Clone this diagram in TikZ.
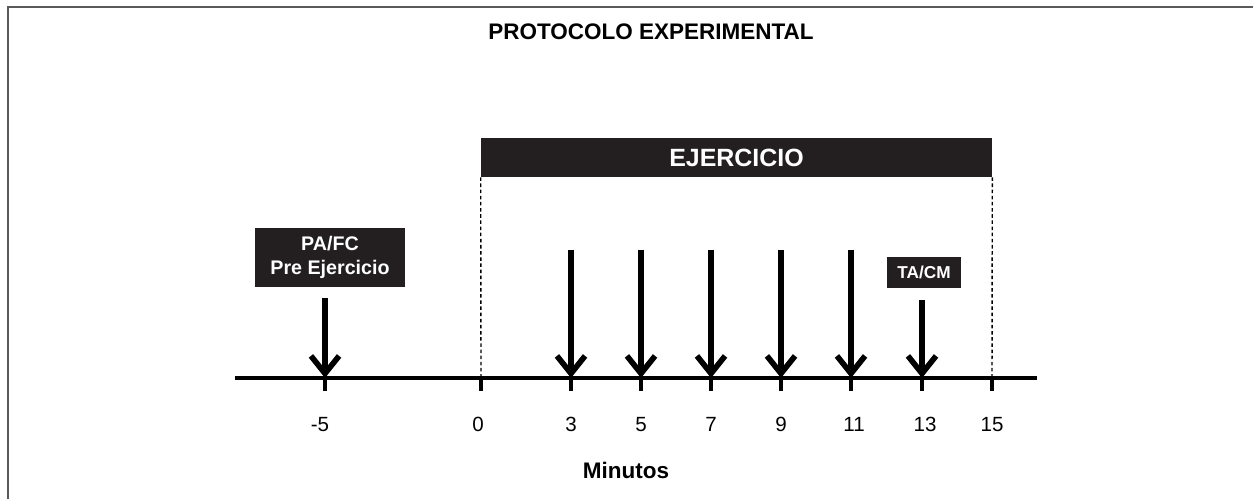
\documentclass[tikz,border=0pt]{standalone}
\usepackage{fontspec}
\setmainfont{Liberation Sans}
\usetikzlibrary{positioning}
\usetikzlibrary{arrows.meta}
\definecolor{barfill}{HTML}{231F20}

\begin{document}
\begin{tikzpicture}
		[x=0.02cm, y=-0.02cm,
		 labelbox/.style={fill=barfill, text=white, font=\bfseries, align=center, inner sep=0pt},
		 marker/.style={line width=3.2pt, -{Straight Barb[length=10pt, width=16pt]}},
		 tickmark/.style={line width=2pt},
		 ticklabel/.style={anchor=base, inner sep=0pt, font=\fontsize{11.7}{14}\selectfont}]
		\useasboundingbox (0,0) rectangle (1253,499);
		\draw[black!65, line width=1.1pt] (8,499) -- (8,7) -- (1253,7);

		\node[font=\bfseries\fontsize{12.8}{15}\selectfont] (title) at (651,32) {PROTOCOLO EXPERIMENTAL};

		% eje de tiempo
		\coordinate (axl) at (235,378);
		\coordinate (axr) at (1037,378);
		\draw[line width=1.9pt] (axl) -- (axr);
		\foreach \v/\x/\lx in {-5/325/320, 0/481/478, 3/571/571, 5/641/641, 7/711/711, 9/781/781, 11/851/854, 13/922/925, 15/992/992} {
			\coordinate (t\v) at (\x,378);
			\draw[tickmark] (t\v) -- ++(0,13);
			\node[ticklabel] (l\v) at (\lx,431) {\v};
		}
		\node[font=\bfseries\fontsize{12.8}{15}\selectfont] (minutos) at (626,470) {Minutos};

		% ejercicio
		\node[labelbox, minimum width=10.22cm, minimum height=0.78cm,
			font=\bfseries\fontsize{14.2}{16}\selectfont] (ejercicio) at (736.5,157.5) {EJERCICIO};
		\draw[line width=0.8pt, dash pattern=on 2pt off 1.5pt] (ejercicio.south west) -- (t0);
		\draw[line width=0.8pt, dash pattern=on 2pt off 1.5pt] (ejercicio.south east) -- (t15);

		% mediciones
		\node[labelbox, minimum width=3cm, minimum height=1.18cm,
			font=\bfseries\fontsize{11.2}{13.5}\selectfont] (pafc) at (330,257.5) {PA/FC\\Pre Ejercicio};
		\node[labelbox, minimum width=1.48cm, minimum height=0.62cm,
			font=\bfseries\fontsize{9.8}{11}\selectfont] (tacm) at (924,272.5) {TA/CM};
		\coordinate (s-5) at (325,298);
		\draw[marker] (s-5) -- (t-5);
		\foreach \v in {3,5,7,9,11} {
			\path (t\v) ++(0,-128) coordinate (s\v);
			\draw[marker] (s\v) -- (t\v);
		}
		\coordinate (s13) at (922,300);
		\draw[marker] (s13) -- (t13);
	\end{tikzpicture}
\end{document}
